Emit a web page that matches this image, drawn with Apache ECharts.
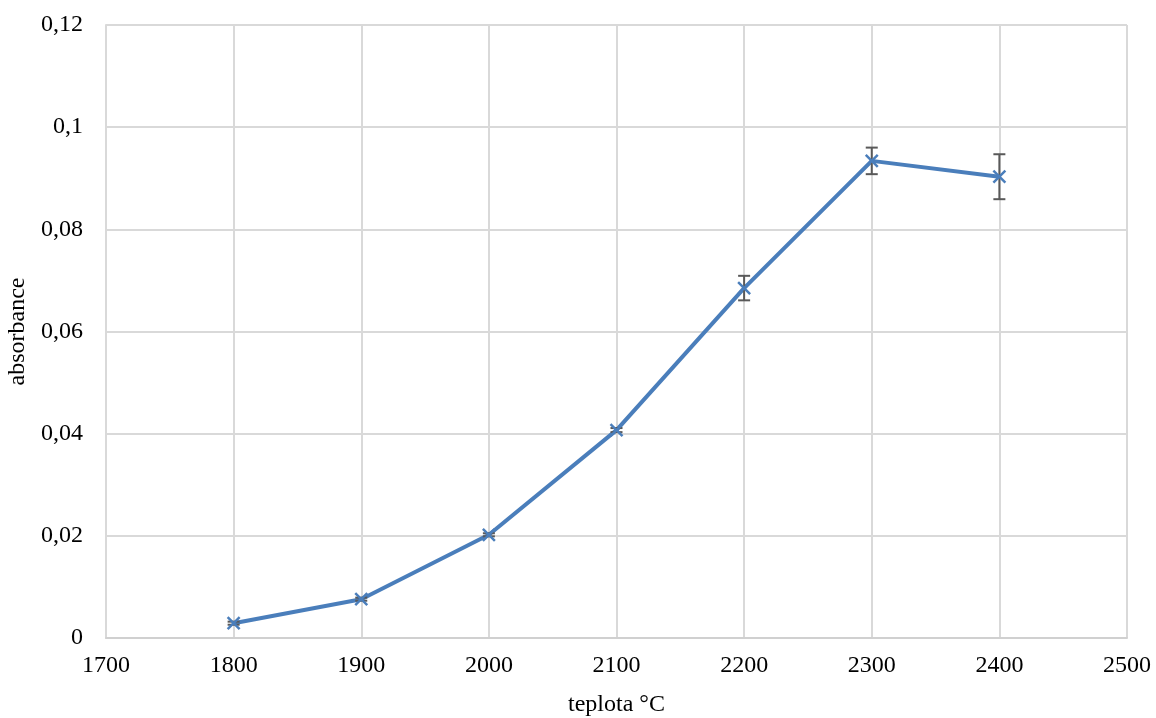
<!DOCTYPE html>
<html>
<head>
<meta charset="utf-8">
<script src="https://cdn.jsdelivr.net/npm/echarts@6/dist/echarts.min.js"></script>
<style>html,body{margin:0;padding:0;background:#fff}#c{width:1156px;height:718px}</style>
</head>
<body>
<div id="c"></div>
<script>
const temperatures = [1800, 1900, 2000, 2100, 2200, 2300, 2400];
const absorbance = [0.0029, 0.0076, 0.0202, 0.0407, 0.0685, 0.0934, 0.0903];
const errors = [0.0003, 0.0003, 0.0003, 0.0004, 0.0024, 0.0026, 0.0044];
const xTicks = {min: 1700, max: 2500, interval: 100};
const yTicks = {min: 0, max: 0.12, interval: 0.02};

const lineData = temperatures.map((t, i) => [t, absorbance[i]]);
const errData = temperatures.map((t, i) => [t, absorbance[i], errors[i]]);

const FONT = '"Liberation Serif", "Times New Roman", serif';
const chart = echarts.init(document.getElementById('c'), null, {renderer: 'canvas'});
chart.setOption({
  animation: false,
  backgroundColor: '#fff',
  grid: {left: 106, right: 29, top: 25, bottom: 80, containLabel: false, outerBoundsMode: 'none'},
  xAxis: {
    type: 'value', min: xTicks.min, max: xTicks.max, interval: xTicks.interval,
    name: 'teplota °C', nameLocation: 'middle', nameGap: 55,
    nameTextStyle: {fontFamily: FONT, fontSize: 24, color: '#000'},
    axisLine: {show: true, lineStyle: {color: '#d0d0d0', width: 2}},
    axisTick: {show: false},
    axisLabel: {fontFamily: FONT, fontSize: 24, color: '#000', margin: 16,
      formatter: v => String(v)},
    splitLine: {show: true, lineStyle: {color: '#d9d9d9', width: 2}}
  },
  yAxis: {
    type: 'value', min: yTicks.min, max: yTicks.max, interval: yTicks.interval,
    name: 'absorbance', nameLocation: 'middle', nameGap: 76, nameRotate: 90,
    nameTextStyle: {fontFamily: FONT, fontSize: 24, color: '#000'},
    axisLine: {show: true, lineStyle: {color: '#d9d9d9', width: 2}},
    axisTick: {show: false},
    axisLabel: {fontFamily: FONT, fontSize: 24, color: '#000', margin: 23,
      formatter: v => String(Math.round(v * 100) / 100).replace('.', ',')},
    splitLine: {show: true, lineStyle: {color: '#d9d9d9', width: 2}}
  },
  series: [
    {
      type: 'line', data: lineData, symbol: 'none',
      lineStyle: {color: '#4a7ebb', width: 4}, z: 3
    },
    {
      type: 'custom', data: errData, z: 4,
      renderItem: function (params, api) {
        const x = api.value(0), y = api.value(1), e = api.value(2);
        const c = api.coord([x, y]);
        const hi = api.coord([x, y + e]);
        const lo = api.coord([x, y - e]);
        const cap = 6, m = 6;
        const eb = {stroke: '#595959', lineWidth: 2};
        const mk = {stroke: '#4a7ebb', lineWidth: 2.5};
        return {type: 'group', children: [
          {type: 'line', shape: {x1: c[0], y1: hi[1], x2: c[0], y2: lo[1]}, style: eb},
          {type: 'line', shape: {x1: c[0] - cap, y1: hi[1], x2: c[0] + cap, y2: hi[1]}, style: eb},
          {type: 'line', shape: {x1: c[0] - cap, y1: lo[1], x2: c[0] + cap, y2: lo[1]}, style: eb},
          {type: 'line', shape: {x1: c[0] - m, y1: c[1] - m, x2: c[0] + m, y2: c[1] + m}, style: mk},
          {type: 'line', shape: {x1: c[0] - m, y1: c[1] + m, x2: c[0] + m, y2: c[1] - m}, style: mk}
        ]};
      }
    }
  ]
});
</script>
</body>
</html>
